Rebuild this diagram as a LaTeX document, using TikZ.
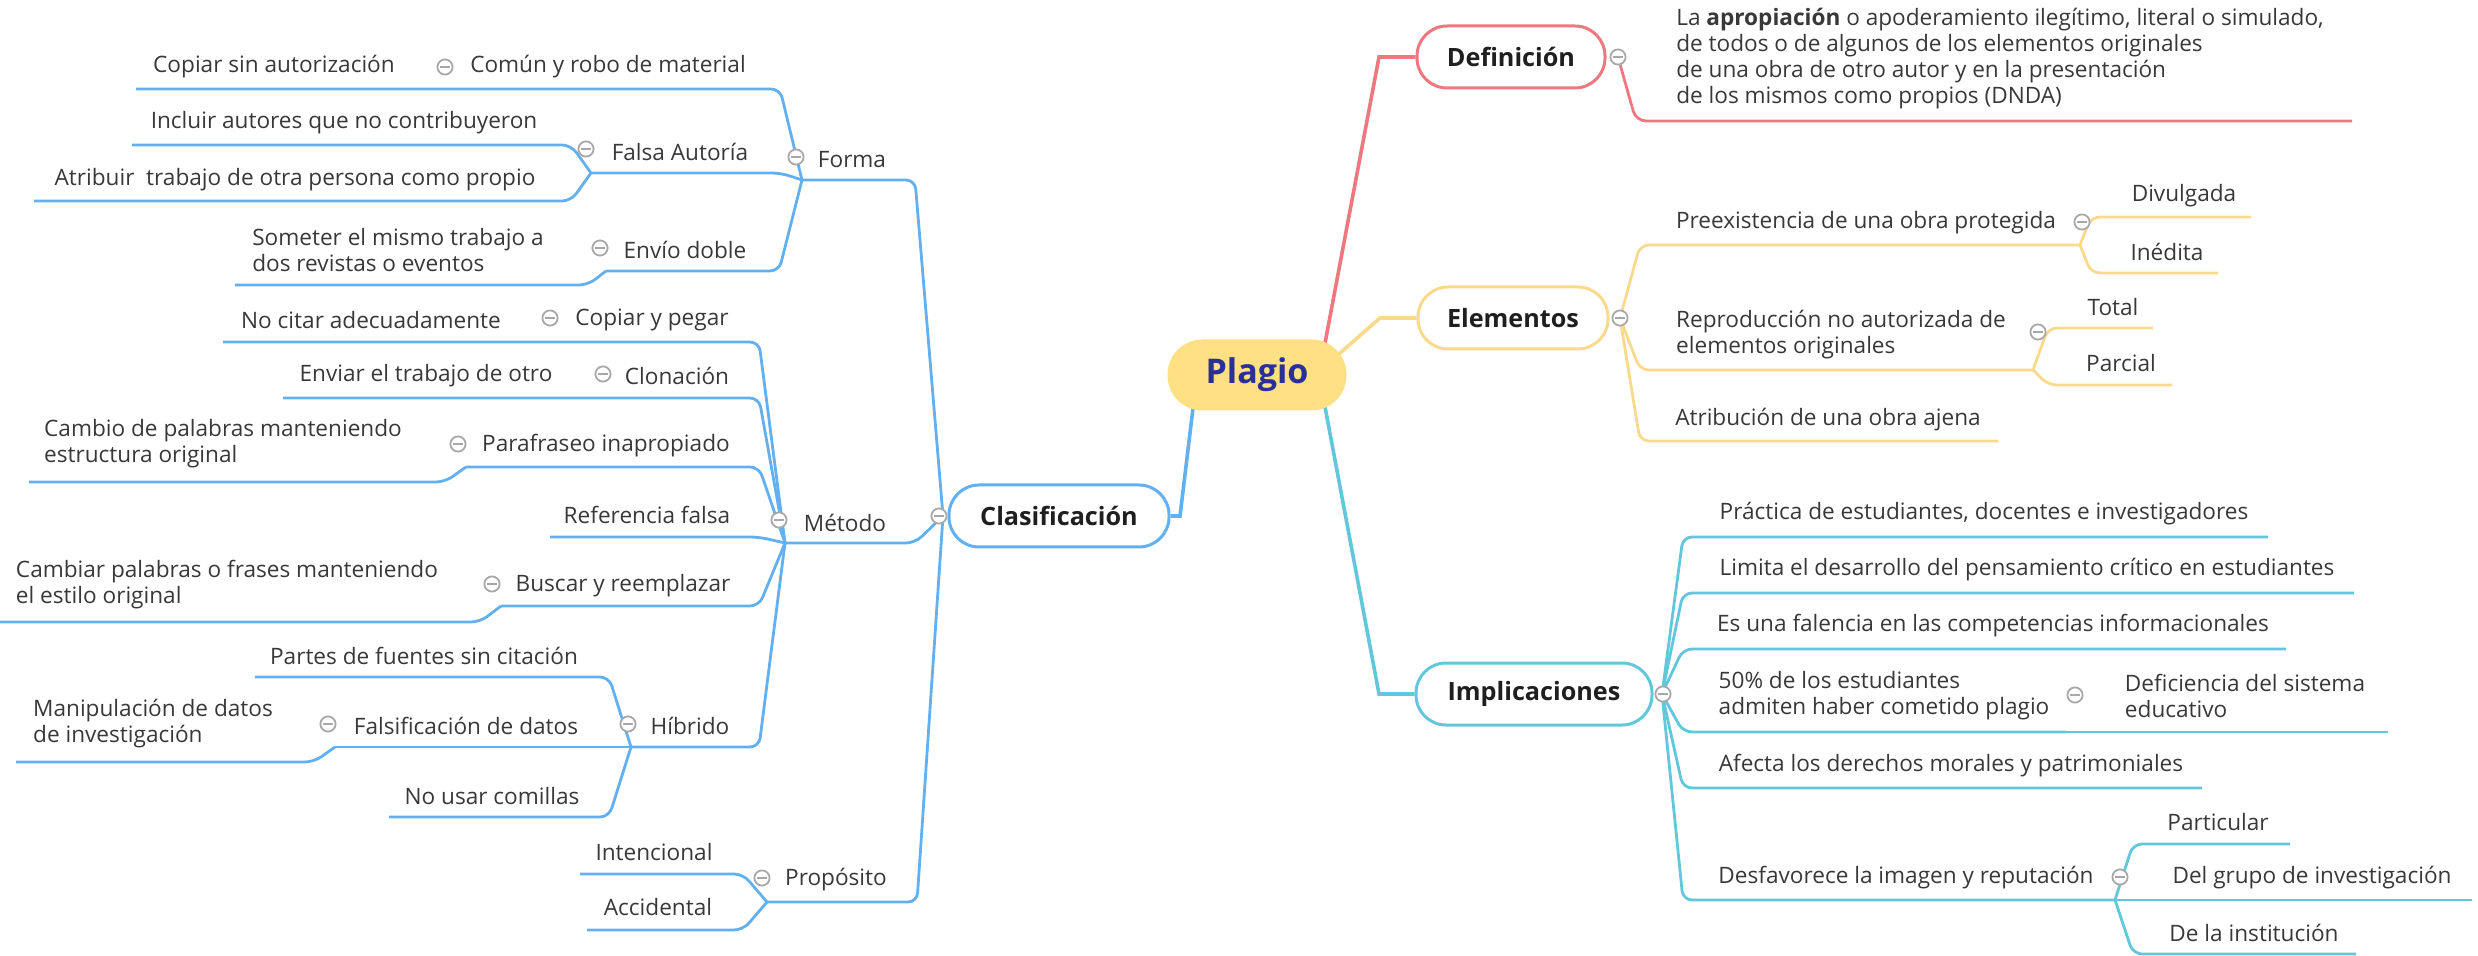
\documentclass[tikz,border=0pt]{standalone}
\usepackage{fontspec}
\setmainfont{Open Sans}
\definecolor{cblue}{HTML}{62B0F0}
\definecolor{cred}{HTML}{EE7780}
\definecolor{cyel}{HTML}{F9D98C}
\definecolor{ccyan}{HTML}{62C7DA}
\definecolor{cplag}{HTML}{FDDF84}
\definecolor{cplagt}{HTML}{2B3099}
\definecolor{txtc}{HTML}{383838}
\definecolor{tgray}{HTML}{A8A8A8}
\pgfdeclarelayer{lines}
\pgfsetlayers{lines,main}
\begin{document}
\begin{tikzpicture}[x=0.5pt,y=-0.5pt,
  txt/.style={font=\fontsize{11.3}{13}\selectfont, text=txtc, inner sep=0pt, align=left},
  mainbox/.style={draw=#1, line width=1.5pt, fill=white, rounded corners=15pt, minimum height=31pt,
     font=\fontsize{12.6}{15}\selectfont\bfseries, text=black!88, inner sep=0pt},
  plag/.style={fill=cplag, rounded corners=17.5pt, minimum width=89.5pt, minimum height=35.5pt,
     font=\fontsize{17}{20}\selectfont\bfseries, text=cplagt, inner sep=0pt},
  tog/.style={circle, draw=tgray, fill=white, line width=0.9pt, minimum size=7.6pt, inner sep=0pt,
     path picture={\draw[tgray, line width=0.9pt] ([xshift=1.5pt]path picture bounding box.west) -- ([xshift=-1.5pt]path picture bounding box.east);}},
  bl/.style={draw=cblue, line width=1.4pt, rounded corners=4.5pt},
  rd/.style={draw=cred, line width=1.4pt, rounded corners=5pt},
  yl/.style={draw=cyel, line width=1.4pt, rounded corners=4.5pt},
  cy/.style={draw=ccyan, line width=1.4pt, rounded corners=4.5pt},
  conn/.style={line width=1.8pt}]
\useasboundingbox (0,0) rectangle (2478,956);

% ---------- main nodes ----------
\node[plag] (Plagio) at (1257,375) {Plagio};
\node[mainbox=cblue, minimum width=110pt] (Clas) at (1059,516) {Clasificación};
\node[mainbox=cred, minimum width=94pt] (Def) at (1511,57) {Definición};
\node[mainbox=cyel, minimum width=95pt] (Elem) at (1513,318) {Elementos};
\node[mainbox=ccyan, minimum width=118pt] (Impl) at (1534,694) {Implicaciones};

% ---------- left (blue) texts ----------
\node[txt] (tComun) at (608,67) {Común y robo de material};
\node[txt] (tCopiarSin) at (274,67) {Copiar sin autorización};
\node[txt] (tFalsa) at (680,152) {Falsa Autoría};
\node[txt] (tIncluir) at (344,123) {Incluir autores que no contribuyeron};
\node[txt] (tAtrib) at (295,180) {Atribuir~ trabajo de otra persona como propio};
\node[txt] (tEnvio) at (685,250) {Envío doble};
\node[txt] (tSomet) at (398,250) {Someter el mismo trabajo a\\dos revistas o eventos};
\node[txt] (tForma) at (852,160) {Forma};
\node[txt] (tCopPeg) at (652,320) {Copiar y pegar};
\node[txt] (tNoCitar) at (371,320) {No citar adecuadamente};
\node[txt] (tClon) at (677,376) {Clonación};
\node[txt] (tEnviar) at (426,376) {Enviar el trabajo de otro};
\node[txt] (tPara) at (606,446) {Parafraseo inapropiado};
\node[txt] (tCambio) at (223,444) {Cambio de palabras manteniendo\\estructura original};
\node[txt] (tRef) at (647,515) {Referencia falsa};
\node[txt] (tMetodo) at (845,523) {Método};
\node[txt] (tBuscar) at (623,586) {Buscar y reemplazar};
\node[txt] (tCambiar) at (227,585) {Cambiar palabras o frases manteniendo\\el estilo original};
\node[txt] (tPartes) at (424,656) {Partes de fuentes sin citación};
\node[txt] (tHibrido) at (690,726) {Híbrido};
\node[txt] (tFalsif) at (466,726) {Falsificación de datos};
\node[txt] (tManip) at (153,724) {Manipulación de datos\\de investigación};
\node[txt] (tNoUsar) at (492,796) {No usar comillas};
\node[txt] (tIntenc) at (654,852) {Intencional};
\node[txt] (tProp) at (836,880) {Propósito};
\node[txt] (tAccid) at (658,907) {Accidental};

% ---------- right texts ----------
\node[txt] (tDefTxt) at (2000,59) {La \textbf{apropiación} o apoderamiento ilegítimo, literal o simulado,\\de todos o de algunos de los elementos originales\\de una obra de otro autor y en la presentación\\de los mismos como propios (DNDA)};
\node[txt] (tPreex) at (1866,223) {Preexistencia de una obra protegida};
\node[txt] (tDivul) at (2184,196) {Divulgada};
\node[txt] (tInedita) at (2167,252) {Inédita};
\node[txt] (tReprod) at (1841,335) {Reproducción no autorizada de\\elementos originales};
\node[txt] (tTotal) at (2113,307) {Total};
\node[txt] (tParcial) at (2121,363) {Parcial};
\node[txt] (tAtribu) at (1828,420) {Atribución de una obra ajena};
\node[txt] (tPract) at (1984,514) {Práctica de estudiantes, docentes e investigadores};
\node[txt] (tLimita) at (2027,570) {Limita el desarrollo del pensamiento crítico en estudiantes};
\node[txt] (tEsUna) at (1993,626) {Es una falencia en las competencias informacionales};
\node[txt] (t50) at (1884,696) {50\% de los estudiantes\\admiten haber cometido plagio};
\node[txt] (tDefic) at (2245,696) {Deficiencia del sistema\\educativo};
\node[txt] (tAfecta) at (1951,766) {Afecta los derechos morales y patrimoniales};
\node[txt] (tDesfav) at (1906,878) {Desfavorece la imagen y reputación};
\node[txt] (tPartic) at (2218,822) {Particular};
\node[txt] (tDelGrupo) at (2312,878) {Del grupo de investigación};
\node[txt] (tDeLaInst) at (2254,933) {De la institución};

% ---------- toggles ----------
\node[tog] (gComun) at (445,67) {};
\node[tog] (gFalsa) at (586,149) {};
\node[tog] (gEnvio) at (600,248) {};
\node[tog] (gForma) at (796,157) {};
\node[tog] (gCopPeg) at (550,318) {};
\node[tog] (gClon) at (603,374) {};
\node[tog] (gPara) at (458,444) {};
\node[tog] (gMetodo) at (779,520) {};
\node[tog] (gBuscar) at (492,584) {};
\node[tog] (gHib) at (628,724) {};
\node[tog] (gFalsif) at (328,724) {};
\node[tog] (gProp) at (762,878) {};
\node[tog] (gClas) at (939,516) {};
\node[tog] (gDef) at (1618,57) {};
\node[tog] (gElem) at (1620,318) {};
\node[tog] (gPreex) at (2082,222) {};
\node[tog] (gReprod) at (2038,332) {};
\node[tog] (gImpl) at (1663,694) {};
\node[tog] (g50) at (2075,695) {};
\node[tog] (gDesf) at (2120,877) {};

% ---------- junctions and line ends ----------
\coordinate (pR) at (1319,375);
\coordinate (pY) at (1315,375);
\coordinate (pB) at (1197,375);
\coordinate (pC) at (1319,375);
\coordinate (J0) at (943,516);
\coordinate (JF) at (802,180);
\coordinate (JFA) at (591,173);
\coordinate (JE) at (606,271);
\coordinate (JM) at (785,543);
\coordinate (JPa) at (466,467);
\coordinate (JB) at (501,606);
\coordinate (JH) at (631,747);
\coordinate (JFd) at (335,747);
\coordinate (JP) at (767,902);
\coordinate (JEl) at (1620,318);
\coordinate (JPr) at (2080,245);
\coordinate (JR) at (2033,370);
\coordinate (JI) at (1662,694);
\coordinate (J50) at (2066,732);
\coordinate (JDes) at (2115,900);
\coordinate (eComun) at (136,89);
\coordinate (eIncl) at (132,145);
\coordinate (eAtrib) at (34,201);
\coordinate (eSomet) at (235,285);
\coordinate (eCop) at (223,342);
\coordinate (eClon) at (283,398);
\coordinate (eCambio) at (29,482);
\coordinate (eRef) at (550,537);
\coordinate (eCambiar) at (0,622);
\coordinate (ePartes) at (255,677);
\coordinate (eManip) at (16,762);
\coordinate (eNoUsar) at (389,817);
\coordinate (eInt) at (580,874);
\coordinate (eAcc) at (587,930);
\coordinate (eDef) at (2352,121);
\coordinate (eDiv) at (2251,217);
\coordinate (eIned) at (2218,273);
\coordinate (eTot) at (2153,328);
\coordinate (ePar) at (2172,385);
\coordinate (eAtr) at (1998,441);
\coordinate (ePra) at (2268,537);
\coordinate (eLim) at (2354,593);
\coordinate (eEs) at (2286,649);
\coordinate (eDefic) at (2388,732);
\coordinate (eAfe) at (2202,788);
\coordinate (ePart) at (2290,844);
\coordinate (eGru) at (2472,900);
\coordinate (eInst) at (2356,954);

\begin{pgfonlayer}{lines}
% main connectors
\draw[conn, cred] (pR) -- (1379,57) -- (Def.west);
\draw[conn, cyel] (pY) -- (1380,318) -- (Elem.west);
\draw[conn, cblue] (pB) -- (1180,516) -- (Clas.east);
\draw[conn, ccyan] (pC) -- (1379,694) -- (Impl.west);

% blue branch
\draw[bl] (J0) -- (915,180) -- (JF);
\draw[bl] (J0) -- (915,543) -- (JM);
\draw[bl] (J0) -- (917,902) -- (JP);
\draw[bl] (JF) -- (780,89) -- (eComun);
\draw[bl] (JF) -- (781,173) -- (JFA);
\draw[bl] (JF) -- (779,271) -- (JE);
\draw[bl] (JFA) -- (571,145) -- (eIncl);
\draw[bl] (JFA) -- (571,201) -- (eAtrib);
\draw[bl] (JE) -- (588,285) -- (eSomet);
\draw[bl] (JM) -- (759,342) -- (eCop);
\draw[bl] (JM) -- (759,398) -- (eClon);
\draw[bl] (JM) -- (759,467) -- (JPa);
\draw[bl] (JPa) -- (445,482) -- (eCambio);
\draw[bl] (JM) -- (759,537) -- (eRef);
\draw[bl] (JM) -- (759,606) -- (JB);
\draw[bl] (JB) -- (480,622) -- (eCambiar);
\draw[bl] (JM) -- (759,747) -- (JH);
\draw[bl] (JH) -- (609,677) -- (ePartes);
\draw[bl] (JH) -- (JFd);
\draw[bl] (JFd) -- (314,762) -- (eManip);
\draw[bl] (JH) -- (609,817) -- (eNoUsar);
\draw[bl] (JP) -- (743,874) -- (eInt);
\draw[bl] (JP) -- (743,930) -- (eAcc);

% red branch
\draw[rd] (gDef) -- (1636,121) -- (eDef);

% yellow branch
\draw[yl] (JEl) -- (1640,245) -- (JPr);
\draw[yl] (JPr) -- (2091,217) -- (eDiv);
\draw[yl] (JPr) -- (2091,273) -- (eIned);
\draw[yl] (JEl) -- (1640,370) -- (JR);
\draw[yl] (JR) -- (2048,328) -- (eTot);
\draw[yl] (JR) -- (2048,385) -- (ePar);
\draw[yl] (JEl) -- (1640,441) -- (eAtr);

% cyan branch
\draw[cy] (JI) -- (1683,537) -- (ePra);
\draw[cy] (JI) -- (1683,593) -- (eLim);
\draw[cy] (JI) -- (1683,649) -- (eEs);
\draw[cy] (JI) -- (1683,732) -- (J50);
\draw[cy] (J50) -- (eDefic);
\draw[cy] (JI) -- (1683,788) -- (eAfe);
\draw[cy] (JI) -- (1683,900) -- (JDes);
\draw[cy] (JDes) -- (2133,844) -- (ePart);
\draw[cy] (JDes) -- (eGru);
\draw[cy] (JDes) -- (2133,954) -- (eInst);
\end{pgfonlayer}
\end{tikzpicture}
\end{document}
